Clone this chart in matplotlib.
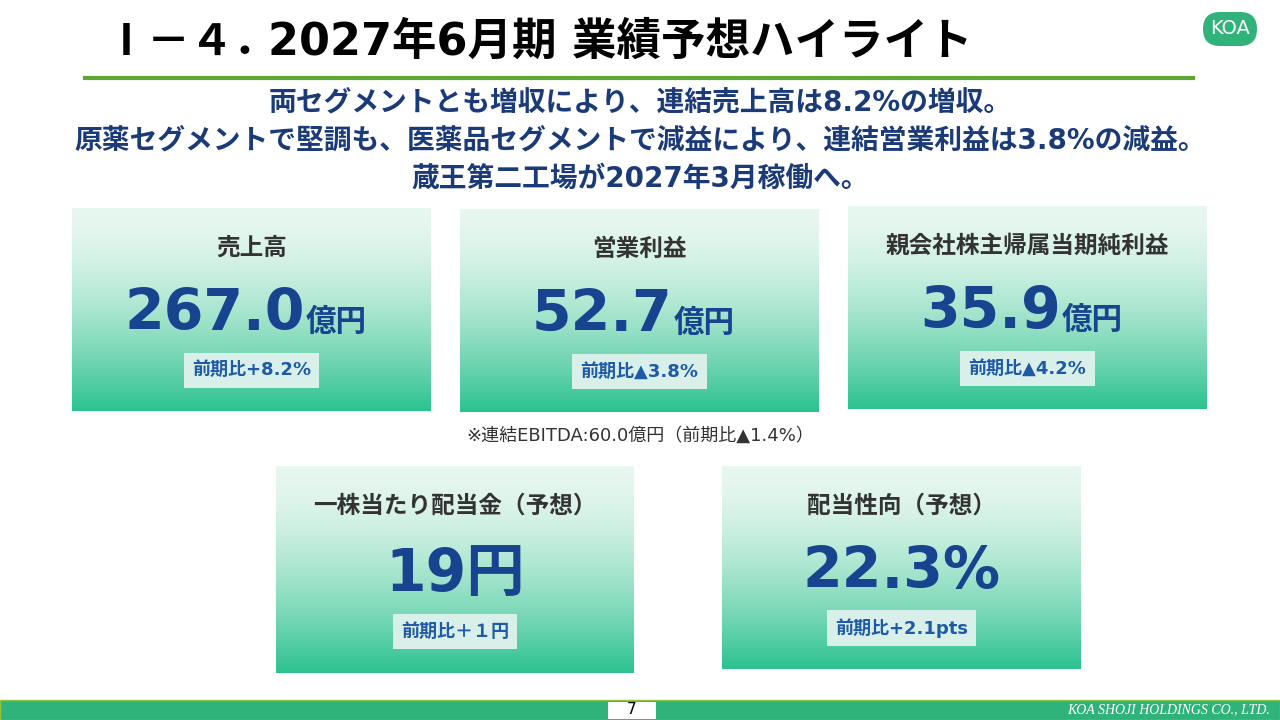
import matplotlib.pyplot as plt
import numpy as np
from matplotlib.patches import Rectangle, FancyBboxPatch

plt.rcParams['font.family'] = ['DejaVu Sans', 'Noto Sans CJK JP']

title_head = "Ⅰ－４．"
title = "2027年6月期 業績予想ハイライト"
subtitle = ["両セグメントとも増収により、連結売上高は8.2%の増収。",
            "原薬セグメントで堅調も、医薬品セグメントで減益により、連結営業利益は3.8%の減益。",
            "蔵王第二工場が2027年3月稼働へ。"]
labels = ["売上高", "営業利益", "親会社株主帰属当期純利益", "一株当たり配当金（予想）", "配当性向（予想）"]
values = ["267.0", "52.7", "35.9", "19", "22.3%"]
units = ["億円", "億円", "億円", "円", ""]
changes = ["前期比+8.2%", "前期比▲3.8%", "前期比▲4.2%", "前期比＋１円", "前期比+2.1pts"]
note = "※連結EBITDA:60.0億円（前期比▲1.4%）"
# box extents in pixels: left, top, right, bottom
boxes = [(72, 208, 431, 411), (460, 209, 819, 412), (848, 206, 1207, 409),
         (276, 466, 634, 673), (722, 466, 1081, 669)]

navy = "#1b3a78"
blue = "#17438f"

fig = plt.figure(figsize=(12.8, 7.2), dpi=100)
ax = fig.add_axes([0, 0, 1, 1])
ax.set_xlim(0, 1280)
ax.set_ylim(720, 0)
ax.axis('off')

ax.text(105, 42, title_head, fontsize=31, fontweight='bold', va='center', color='black',
        family=['Noto Sans CJK JP'])
ax.text(268, 42, title, fontsize=32, fontweight='bold', va='center', color='black')
ax.plot([85, 1193], [78, 78], color='#5aa832', lw=3)
logo = FancyBboxPatch((1203, 12), 54, 34, boxstyle="round,pad=0,rounding_size=17",
                      fc='#2fb37a', ec='none')
ax.add_patch(logo)
ax.text(1230, 29, "KOA", color='white', fontsize=14, ha='center', va='center')

for i, s in enumerate(subtitle):
    ax.text(640, 103 + i * 38, s, fontsize=20, fontweight='bold', color=navy, ha='center', va='center')

grad = np.linspace(0, 1, 256)[:, None]
top = np.array([0.91, 0.97, 0.94])
bot = np.array([0.17, 0.76, 0.56])
img = top + (bot - top) * (grad ** 1.6)[:, :, None]
img = np.repeat(img, 2, axis=1)

for i, (l, t, r, b) in enumerate(boxes):
    ax.imshow(img, extent=(l, r, b, t), aspect='auto', zorder=1)
    cx = (l + r) / 2
    h = b - t
    ax.text(cx, t + 40, labels[i], fontsize=17, fontweight='bold', color='#333333',
            ha='center', va='center', zorder=3)
    y = t + 0.5 * h + 5
    if i == 3:
        ax.text(cx, y, values[i] + units[i], fontsize=42, fontweight='bold',
                color=blue, ha='center', va='center', zorder=3)
    elif units[i]:
        big = ax.text(cx - 37, y, values[i], fontsize=41, fontweight='bold', color=blue,
                      ha='center', va='center', zorder=3)
        fig.canvas.draw()
        bb = big.get_window_extent()
        ax.text(bb.x1 + 1, y + 8, units[i], fontsize=22, fontweight='bold',
                color=blue, ha='left', va='center', zorder=3)
    else:
        ax.text(cx, y, values[i], fontsize=41, fontweight='bold', color=blue,
                ha='center', va='center', zorder=3)
    cy = t + 0.8 * h
    ax.text(cx, cy, changes[i], fontsize=13, fontweight='bold', color='#1f5aa6',
            ha='center', va='center', zorder=3,
            bbox=dict(boxstyle='square,pad=0.45', fc='#d9f0ea', ec='none'))

ax.text(640, 436, note, fontsize=13, color='#333333', ha='center', va='center')

ax.add_patch(Rectangle((0, 700), 1280, 20, fc='#2fb37a', ec='none', zorder=1))
ax.add_patch(Rectangle((0, 700), 1280, 20, fc='none', ec='#8cc63f', lw=1, zorder=2))
ax.add_patch(Rectangle((608, 702), 48, 17, fc='white', ec='none', zorder=3))
ax.text(632, 710, "7", fontsize=11, ha='center', va='center', zorder=4)
ax.text(1270, 710, "KOA SHOJI HOLDINGS CO., LTD.", fontsize=10, color='white', style='italic',
        family='Liberation Serif', ha='right', va='center', zorder=4)

fig.savefig("out.png", dpi=100)
